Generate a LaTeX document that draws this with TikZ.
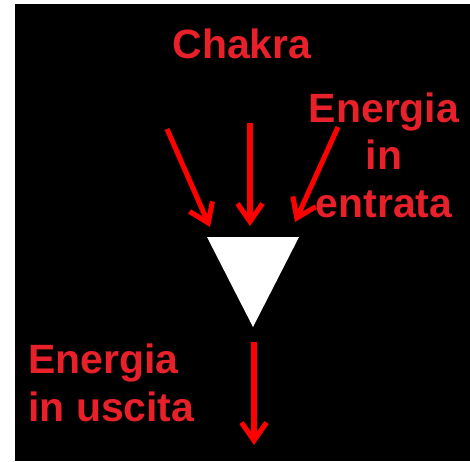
\documentclass[tikz,border=0pt]{standalone}
\usepackage{fontspec}
\setmainfont{Liberation Sans}
\usetikzlibrary{arrows.meta}
\definecolor{chakratext}{RGB}{232,32,42}

\begin{document}
\begin{tikzpicture}[
      x=0.02cm, y=-0.02cm,
      flow/.style={draw=red, line width=2.9pt,
        -{Straight Barb[length=0.36cm, width=0.5cm]}},
      caption/.style={text=chakratext, inner sep=0pt,
        font=\bfseries\fontsize{23.3}{27}\selectfont}
    ]
    \useasboundingbox (0,0) rectangle (470,461);
    % background
    \fill[white] (0,0) rectangle (470,461);
    \fill[black] (15,4) rectangle (470,461);
    % labels (base = last line)
    \node[caption, anchor=base] (chakra) at (242,58) {Chakra};
    \node[caption, anchor=base, align=center] (entrata) at (384,217)
      {Energia\\in\\entrata};
    \node[caption, anchor=base west, align=left] (uscita) at (28,421)
      {Energia\\in uscita};
    % chakra funnel
    \coordinate (tl) at (207,237);
    \coordinate (tr) at (299,237);
    \coordinate (tip) at (253,327);
    \fill[white] (tl) -- (tr) -- (tip) -- cycle;
    % incoming energy
    \coordinate (inA) at (167,129);
    \coordinate (inB) at (250,123);
    \coordinate (inC) at (338,127);
    \coordinate (toA) at (210,227);
    \coordinate (toB) at (250,226);
    \coordinate (toC) at (295,222);
    \draw[flow] (inA) -- (toA);
    \draw[flow] (inB) -- (toB);
    \draw[flow] (inC) -- (toC);
    % outgoing energy
    \coordinate (outS) at (254,342);
    \coordinate (outE) at (254,445);
    \draw[flow] (outS) -- (outE);
  \end{tikzpicture}
\end{document}
